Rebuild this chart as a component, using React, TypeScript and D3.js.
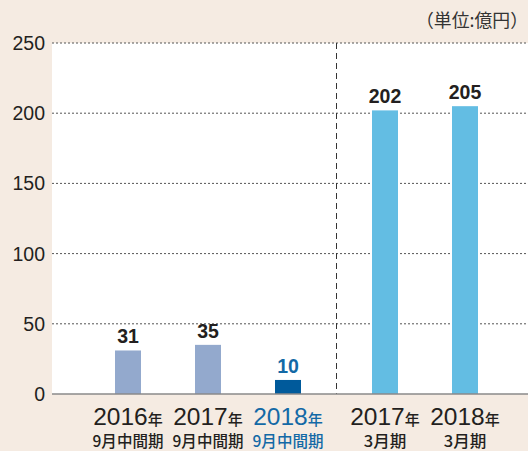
import React from "react";
import * as d3 from "d3";

const years = ["2016", "2017", "2018", "2017", "2018"];
const periods = ["9月中間期", "9月中間期", "9月中間期", "3月期", "3月期"];
const groups = ["half", "half", "half", "full", "full"];
const values = [31, 35, 10, 202, 205];
const yTicks = [0, 50, 100, 150, 200, 250];
const unitLabel = "（単位:億円）";

const W = 528;
const H = 451;

const barColors = ["#93a9cd", "#93a9cd", "#005a9b", "#63bde3", "#63bde3"];
const labelColors = ["#231f20", "#231f20", "#1369a6", "#231f20", "#231f20"];

export default function App() {
  const plotL = 52;
  const plotR = 528;
  const plotT = 43;
  const plotB = 394;
  const y = d3.scaleLinear().domain([0, 250]).range([plotB, plotT]);
  const GROUP_GAP = 0.2125;
  const slot = (i: number) => i + (groups[i] === "full" ? GROUP_GAP : 0);
  const x = d3.scaleLinear().domain([0, 1]).range([128, 208]);
  const barW = 26;
  const dividerX = x((2 + 3 + GROUP_GAP) / 2);

  return (
    <svg
      width={W}
      height={H}
      style={{ position: "absolute", left: 0, top: 0, display: "block" }}
      fontFamily="'Liberation Sans', Arial, sans-serif"
    >
      <rect x={0} y={0} width={W} height={H} fill="#f5ebe2" />
      <rect x={plotL} y={plotT} width={plotR - plotL} height={plotB - plotT} fill="#ffffff" />
      {yTicks.map((t) => (
        <g key={t}>
          {t > 0 && (
            <line
              x1={plotL}
              x2={plotR}
              y1={y(t)}
              y2={y(t)}
              stroke="#555"
              strokeWidth={1}
              strokeDasharray="2,2"
            />
          )}
          <text
            x={45}
            y={y(t)}
            dy="0.36em"
            textAnchor="end"
            fontSize={19.5}
            fill="#231f20"
          >
            {t}
          </text>
        </g>
      ))}
      <line
        x1={dividerX}
        x2={dividerX}
        y1={plotT}
        y2={plotB}
        stroke="#333"
        strokeWidth={1}
        strokeDasharray="6,4"
      />
      {values.map((v, i) => {
        const cx = x(slot(i));
        return (
          <g key={i}>
            <rect x={cx - barW / 2} y={y(v)} width={barW} height={plotB - y(v)} fill={barColors[i]} />
            <text
              x={cx}
              y={y(v) - 7}
              textAnchor="middle"
              fontSize={19.5}
              fontWeight="bold"
              fill={labelColors[i]}
            >
              {v}
            </text>
            <text
              x={cx}
              y={425}
              textAnchor="middle"
              fill={labelColors[i]}
              fontFamily="'Liberation Sans Narrow', 'Liberation Sans', Arial, sans-serif"
            >
              <tspan fontSize={24.5}>{years[i]}</tspan>
              <tspan fontSize={15} fontFamily="'Noto Sans CJK JP', sans-serif" fontWeight="500">年</tspan>
            </text>
            <text
              x={cx}
              y={447}
              textAnchor="middle"
              fontSize={15.5}
              fontWeight="500"
              fill={labelColors[i]}
              fontFamily="'Noto Sans CJK JP', sans-serif"
              textLength={periods[i].length * 14.2}
              lengthAdjust="spacingAndGlyphs"
            >
              {periods[i]}
            </text>
          </g>
        );
      })}
      <line x1={plotL} x2={plotR} y1={plotB} y2={plotB} stroke="#8a8a8a" strokeWidth={1.5} />
      <text
        x={528}
        y={27}
        textAnchor="end"
        fontSize={18}
        fill="#333"
        fontFamily="'Noto Sans CJK JP', sans-serif"
        textLength={112}
        lengthAdjust="spacingAndGlyphs"
      >
        {unitLabel}
      </text>
    </svg>
  );
}
